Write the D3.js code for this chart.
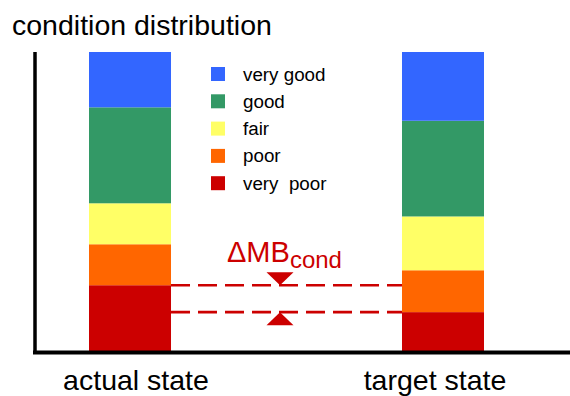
<!DOCTYPE html>
<html>
<head>
<meta charset="utf-8">
<script src="https://cdn.jsdelivr.net/npm/d3@7/dist/d3.min.js"></script>
<style>
  html, body { margin: 0; padding: 0; background: #fff; }
  svg { display: block; font-family: "Liberation Sans", Arial, Helvetica, sans-serif; }
</style>
</head>
<body>
<svg id="chart" width="570" height="396"></svg>
<script>
// Condition classes, bottom to top of each stacked column
const conditions = ["very  poor", "poor", "fair", "good", "very good"];
const conditionColors = ["#cc0000", "#ff6600", "#ffff66", "#339966", "#3366ff"];
const states = ["actual state", "target state"];
// Share of each condition class (%), in the order of `conditions`
const actualShares = [22, 13.7, 13.7, 32.1, 18.5];
const targetShares = [13, 14, 18, 32, 23];
// Legend reads top to bottom
const legendOrder = ["very good", "good", "fair", "poor", "very  poor"];

const svg = d3.select("#chart");

const x = d3.scaleBand()
  .domain(states)
  .range([89, 484])
  .paddingInner(0.738)
  .paddingOuter(0);

const y = d3.scaleLinear().domain([0, 100]).range([351, 52]);

const color = d3.scaleOrdinal().domain(conditions).range(conditionColors);

// Stack the shares into a table keyed by condition
const table = states.map((s, i) => {
  const row = { state: s };
  const vals = i === 0 ? actualShares : targetShares;
  conditions.forEach((c, j) => { row[c] = vals[j]; });
  return row;
});
const series = d3.stack().keys(conditions)(table);

svg.append("g")
  .selectAll("g")
  .data(series)
  .join("g")
    .attr("fill", d => color(d.key))
  .selectAll("rect")
  .data(d => d)
  .join("rect")
    .attr("x", d => x(d.data.state))
    .attr("width", x.bandwidth())
    .attr("y", d => y(d[1]))
    .attr("height", d => y(d[0]) - y(d[1]));

// Axes: plain heavy lines, no ticks
svg.append("line")
  .attr("x1", 35).attr("x2", 35)
  .attr("y1", y(100)).attr("y2", y(0) + 3)
  .attr("stroke", "#000").attr("stroke-width", 3.5);
svg.append("line")
  .attr("x1", 33).attr("x2", 570)
  .attr("y1", y(0) + 1.5).attr("y2", y(0) + 1.5)
  .attr("stroke", "#000").attr("stroke-width", 4);

// Category labels under the columns (slightly off-centre from the columns)
const labelShift = [6, -8];
svg.append("g")
  .selectAll("text")
  .data(states)
  .join("text")
    .attr("x", (d, i) => x(d) + x.bandwidth() / 2 + labelShift[i])
    .attr("y", 390)
    .attr("text-anchor", "middle")
    .attr("font-size", 28.5)
    .attr("fill", "#000")
    .text(d => d);

// Title
svg.append("text")
  .attr("x", 12).attr("y", 35)
  .attr("font-size", 28.5)
  .attr("fill", "#000")
  .text("condition distribution");

// Legend
const legend = svg.append("g").attr("transform", "translate(211,67)");
const rows = legend.selectAll("g")
  .data(legendOrder)
  .join("g")
    .attr("transform", (d, i) => `translate(0,${i * 27.3})`);
rows.append("rect")
  .attr("width", 14).attr("height", 14)
  .attr("fill", d => color(d));
rows.append("text")
  .attr("x", 32).attr("y", 13.5)
  .attr("font-size", 18.8)
  .attr("fill", "#000")
  .style("white-space", "pre")
  .attr("xml:space", "preserve")
  .text(d => d);

// Difference between the very-poor shares of the two states
const red = "#cc0000";
const yActualPoor = y(actualShares[0]);
const yTargetPoor = y(targetShares[0]);
const xFrom = x(states[0]) + x.bandwidth();
const xTo = x(states[1]);
[yActualPoor, yTargetPoor].forEach(yy => {
  svg.append("line")
    .attr("x1", xFrom).attr("x2", xTo)
    .attr("y1", yy).attr("y2", yy)
    .attr("stroke", red).attr("stroke-width", 2.6)
    .attr("stroke-dasharray", "19 8");
});
const xMid = 280, half = 13.5, th = 13;
svg.append("path")
  .attr("d", `M${xMid - half},${yActualPoor - th}L${xMid + half},${yActualPoor - th}L${xMid},${yActualPoor}Z`)
  .attr("fill", red);
svg.append("path")
  .attr("d", `M${xMid - half},${yTargetPoor + th}L${xMid + half},${yTargetPoor + th}L${xMid},${yTargetPoor}Z`)
  .attr("fill", red);

const lbl = svg.append("text")
  .attr("x", 227).attr("y", 262)
  .attr("fill", red)
  .attr("font-size", 29);
lbl.append("tspan").text("\u0394MB");
lbl.append("tspan").attr("font-size", 24).attr("dy", 6).text("cond");
</script>
</body>
</html>
